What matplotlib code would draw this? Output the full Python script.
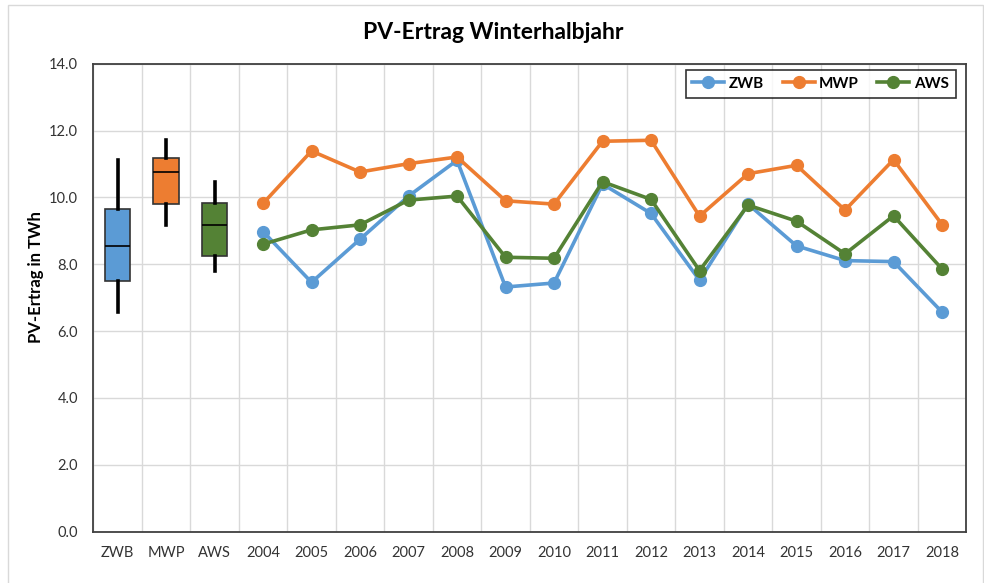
import numpy as np
import matplotlib
matplotlib.use("Agg")
import matplotlib.pyplot as plt
from matplotlib.patches import Rectangle

# --- data ---
box_labels = ["ZWB", "MWP", "AWS"]
years = ["2004", "2005", "2006", "2007", "2008", "2009", "2010", "2011",
         "2012", "2013", "2014", "2015", "2016", "2017", "2018"]

zwb = [8.98, 7.46, 8.75, 10.04, 11.11, 7.32, 7.44, 10.40,
       9.52, 7.52, 9.80, 8.55, 8.11, 8.08, 6.57]
mwp = [9.82, 11.39, 10.76, 11.01, 11.21, 9.90, 9.80, 11.68,
       11.71, 9.44, 10.71, 10.96, 9.62, 11.13, 9.19]
aws = [8.60, 9.03, 9.18, 9.92, 10.04, 8.21, 8.18, 10.47,
       9.94, 7.81, 9.77, 9.29, 8.31, 9.45, 7.86]

series = [zwb, mwp, aws]
colors = ["#5B9BD5", "#ED7D31", "#548235"]

plt.rcParams['font.family'] = ['Lato', 'DejaVu Sans']

fig = plt.figure(figsize=(9.84, 5.83), dpi=100)
ax = fig.add_axes([0.0948, 0.088, 0.8872, 0.8027])

# outer chart frame
fig.patches.append(Rectangle((8 / 984, -0.01), (984 - 9) / 984, 1 - 5 / 583 + 0.01,
                             transform=fig.transFigure, fill=False,
                             edgecolor="#d9d9d9", linewidth=1.0))

categories = box_labels + years
n_cat = len(categories)

# box plots (min-max whiskers, inclusive quartiles)
bp = ax.boxplot(series, positions=range(len(box_labels)), widths=0.52,
                whis=(0, 100), patch_artist=True, showcaps=False,
                showfliers=False, zorder=3)
for patch, c in zip(bp['boxes'], colors):
    patch.set_facecolor(c)
    patch.set_edgecolor("#333333")
    patch.set_linewidth(1.2)
for w in bp['whiskers']:
    w.set_color("black")
    w.set_linewidth(2.6)
for m in bp['medians']:
    m.set_color("black")
    m.set_linewidth(1.2)

# yearly lines
x_years = np.arange(len(box_labels), n_cat)
for vals, c, name in zip(series, colors, box_labels):
    ax.plot(x_years, vals, color=c, linewidth=2.6, marker='o',
            markersize=8.5, label=name, zorder=4)

ax.set_xlim(-0.5, n_cat - 0.5)
ax.set_ylim(0, 14)
ax.set_xticks(range(n_cat))
ax.set_xticklabels(categories)
ax.set_yticks(np.arange(0, 14.1, 2))
ax.set_yticklabels([f"{v:.1f}" for v in np.arange(0, 14.1, 2)])
ax.set_xticks(np.arange(-0.5, n_cat, 1), minor=True)
ax.grid(True, which='minor', axis='x', color="#d9d9d9", linewidth=1.0, zorder=0)
ax.grid(True, which='major', axis='y', color="#d9d9d9", linewidth=1.0, zorder=0)
ax.set_axisbelow(True)
ax.tick_params(axis='both', which='both', length=0, labelsize=10.5,
               colors="#333333")
ax.tick_params(axis='x', pad=10)
ax.tick_params(axis='y', pad=11)
for s in ax.spines.values():
    s.set_color("#404040")
    s.set_linewidth(1.3)

ax.set_ylabel("PV-Ertrag in TWh", fontsize=12, fontweight='bold')
ax.yaxis.set_label_coords(-0.057, 0.544)

fig.text(0.501, 0.945, "PV-Ertrag Winterhalbjahr", ha='center', va='center',
         fontsize=16.5, fontweight='bold')

leg = ax.legend(loc='upper right', bbox_to_anchor=(0.988, 0.987), ncol=3,
                borderaxespad=0, fancybox=False, edgecolor="black",
                handlelength=2.1, handletextpad=0.3, columnspacing=1.2,
                prop={'weight': 'bold', 'size': 11}, borderpad=0.45)
leg.get_frame().set_linewidth(1.2)
leg.set_zorder(5)

fig.savefig("out.png", dpi=100)
